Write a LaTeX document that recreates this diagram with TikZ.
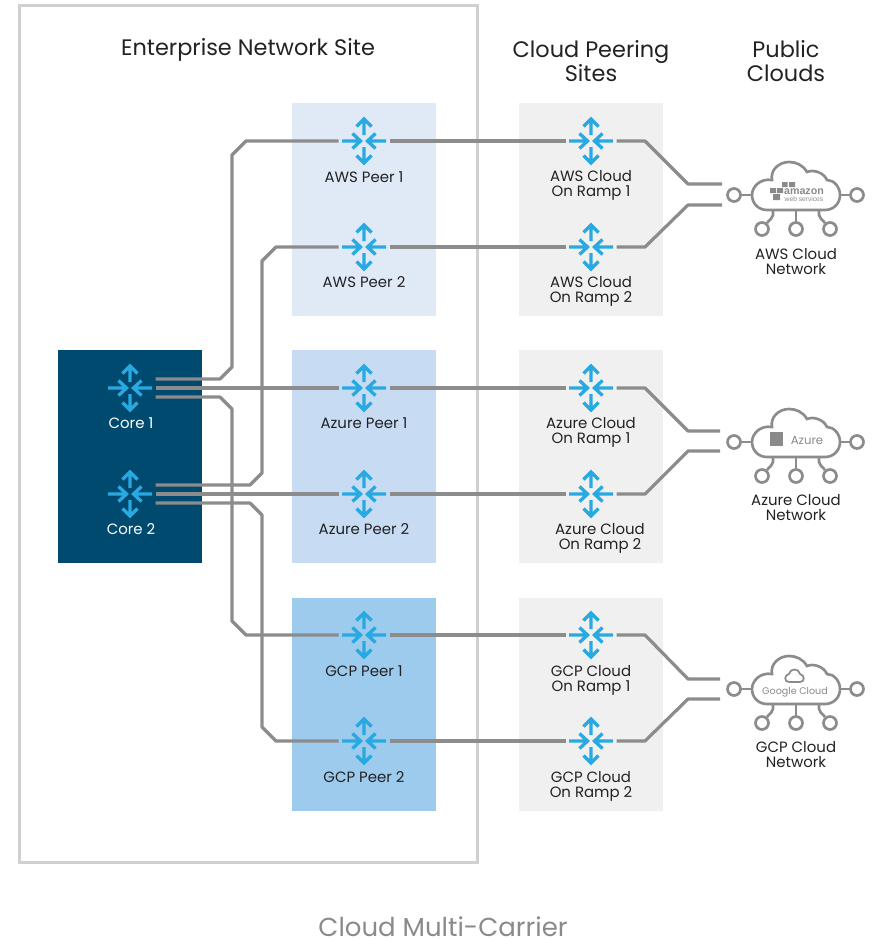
\documentclass[tikz,border=0pt]{standalone}
\usepackage{fontspec}
\setmainfont{Poppins}
\newfontfamily\logofont{Liberation Sans}
\definecolor{framegray}{HTML}{D0D0D0}
\definecolor{coreblue}{HTML}{004A70}
\definecolor{peerA}{HTML}{E0EAF7}
\definecolor{peerB}{HTML}{C7DCF3}
\definecolor{peerC}{HTML}{9CCBEE}
\definecolor{rampgray}{HTML}{F0F0F0}
\definecolor{linkgray}{HTML}{8C8C8C}
\definecolor{arrowblue}{HTML}{29A9E1}
\definecolor{labelblack}{HTML}{222222}
\definecolor{logogray}{HTML}{8A8A8A}
\tikzset{
  routerbox/.style={minimum size=38.25pt,inner sep=0pt,outer sep=0pt},
  cloudbox/.style={minimum width=114pt,minimum height=36pt,inner sep=0pt,outer sep=0pt},
  link/.style={draw=linkgray,line width=2.4pt,line join=round},
  labeltext/.style={font=\fontsize{11.2}{11.25}\selectfont,text=labelblack,align=center,inner sep=0pt},
  titletext/.style={font=\fontsize{16.8}{18}\selectfont,text=labelblack,align=center,inner sep=0pt},
  routericon/.pic={
    \draw[arrowblue,line width=2.5pt]
      (0,-6)--(0,-21) (-7.5,-14.5)--(0,-22)--(7.5,-14.5)
      (0,6)--(0,21) (-7.5,14.5)--(0,22)--(7.5,14.5)
      (-22,0)--(-4,0) (-11.5,-7.5)--(-3.5,0)--(-11.5,7.5)
      (22,0)--(4,0) (11.5,-7.5)--(3.5,0)--(11.5,7.5);
  },
  cloudicon/.pic={
    \begin{scope}[draw=linkgray,line width=2pt]
      \draw (-29,15) -- (29,15)
        .. controls (38,15) and (44,8) .. (44,0)
        .. controls (44,-8) and (38,-15) .. (31,-15)
        .. controls (28,-22) and (18,-26) .. (11,-23)
        .. controls (7,-30) and (0,-33) .. (-7,-33)
        .. controls (-17,-33) and (-26,-25) .. (-24,-15)
        .. controls (-36,-17) and (-44,-8) .. (-44,0)
        .. controls (-44,8) and (-38,15) .. (-29,15) -- cycle;
      \draw (-55,0)--(-44,0) (44,0)--(54,0);
      \draw (-62,0) circle (6.5);
      \draw (61,0) circle (6.5);
      \draw (-34,34) circle (6.5);
      \draw (0,34) circle (6.5);
      \draw (34,34) circle (6.5);
      \draw (0,15)--(0,27);
      \draw (-23,15)--(-23,20) .. controls (-23,23) and (-26,24) .. (-29,28);
      \draw (23,15)--(23,20) .. controls (23,23) and (26,24) .. (29,28);
    \end{scope}
  }
}
\begin{document}
\begin{tikzpicture}[x=0.75pt,y=-0.75pt]
\useasboundingbox (0,0) rectangle (874,939);
% panels
\draw[framegray,line width=2.25pt] (19,5) rectangle (477,862);
\fill[coreblue] (58,350) rectangle (202,563);
\fill[peerA] (292,103) rectangle (436,316);
\fill[peerB] (292,350) rectangle (436,563);
\fill[peerC] (292,598) rectangle (436,811);
\fill[rampgray] (519,103) rectangle (663,316);
\fill[rampgray] (519,350) rectangle (663,563);
\fill[rampgray] (519,598) rectangle (663,811);
% titles
\node[titletext] (t1) at (248,50) {Enterprise Network Site};
\node[titletext] (t2) at (591,61) {Cloud Peering\\[0.5pt]Sites};
\node[titletext] (t3) at (786,61) {Public\\[0.5pt]Clouds};
\node[font=\fontsize{19.5}{22}\selectfont,text=logogray,inner sep=0pt] (caption) at (443,927) {Cloud Multi-Carrier};
% router nodes
\node[routerbox] (core1) at (130,388) {};
\node[routerbox] (core2) at (130,494) {};
\node[routerbox] (awsp1) at (364,141) {};
\node[routerbox] (awsp2) at (364,247) {};
\node[routerbox] (azp1) at (364,388) {};
\node[routerbox] (azp2) at (364,494) {};
\node[routerbox] (gcpp1) at (364,635) {};
\node[routerbox] (gcpp2) at (364,741) {};
\node[routerbox] (awsr1) at (591,141) {};
\node[routerbox] (awsr2) at (591,247) {};
\node[routerbox] (azr1) at (591,388) {};
\node[routerbox] (azr2) at (591,494) {};
\node[routerbox] (gcpr1) at (591,635) {};
\node[routerbox] (gcpr2) at (591,741) {};
\node[cloudbox] (awscloud) at (796,195) {};
\node[cloudbox] (azcloud) at (796,442) {};
\node[cloudbox] (gcpcloud) at (796,689) {};
% core to peers
\draw[link] (core1.east) ++(0,-9) -- (220,379) -- (232,367) -- (232,155) -- (246,141) -- (awsp1.west);
\draw[link] (core1.east) -- (azp1.west);
\draw[link] (core1.east) ++(0,9) -- (220,397) -- (232,409) -- (232,621) -- (246,635) -- (gcpp1.west);
\draw[link] (core2.east) ++(0,-9) -- (250,485) -- (262,473) -- (262,261) -- (276,247) -- (awsp2.west);
\draw[link] (core2.east) -- (azp2.west);
\draw[link] (core2.east) ++(0,9) -- (250,503) -- (262,515) -- (262,727) -- (276,741) -- (gcpp2.west);
% peers to ramps
\draw[link] (awsp1.east) -- (awsr1.west);
\draw[link] (awsp2.east) -- (awsr2.west);
\draw[link] (azp1.east) -- (azr1.west);
\draw[link] (azp2.east) -- (azr2.west);
\draw[link] (gcpp1.east) -- (gcpr1.west);
\draw[link] (gcpp2.east) -- (gcpr2.west);
% ramps to clouds
\draw[link] (awsr1.east) -- (645,141) -- (688,184) -- ++(34,0) coordinate (e1);
\draw[link] (awsr2.east) -- (645,247) -- (688,205) -- ++(34,0) coordinate (e2);
\draw[link] (azr1.east) -- (645,388) -- (688,431) -- ++(32,0) coordinate (e3);
\draw[link] (azr2.east) -- (645,494) -- (688,451) -- ++(32,0) coordinate (e4);
\draw[link] (gcpr1.east) -- (645,635) -- (688,679) -- ++(32,0) coordinate (e5);
\draw[link] (gcpr2.east) -- (645,741) -- (688,699) -- ++(32,0) coordinate (e6);
% icons
\foreach \n in {core1,core2,awsp1,awsp2,azp1,azp2,gcpp1,gcpp2,awsr1,awsr2,azr1,azr2,gcpr1,gcpr2}
  \pic at (\n) {routericon};
\foreach \n in {awscloud,azcloud,gcpcloud}
  \pic at (\n) {cloudicon};
% labels
\node[labeltext,text=white] (lc1) at (131,423) {Core 1};
\node[labeltext,text=white] (lc2) at (131,529) {Core 2};
\node[labeltext] (l1) at (364,177) {AWS Peer 1};
\node[labeltext] (l2) at (364,282) {AWS Peer 2};
\node[labeltext] (l3) at (364,423) {Azure Peer 1};
\node[labeltext] (l4) at (364,529) {Azure Peer 2};
\node[labeltext] (l5) at (364,671) {GCP Peer 1};
\node[labeltext] (l6) at (364,777) {GCP Peer 2};
\node[labeltext] (r1) at (591,185.5) {AWS Cloud\\On Ramp 1};
\node[labeltext] (r2) at (591,291) {AWS Cloud\\On Ramp 2};
\node[labeltext] (r3) at (591,432) {Azure Cloud\\On Ramp 1};
\node[labeltext] (r4) at (600,538) {Azure Cloud\\On Ramp 2};
\node[labeltext] (r5) at (591,680) {GCP Cloud\\On Ramp 1};
\node[labeltext] (r6) at (591,786) {GCP Cloud\\On Ramp 2};
\node[labeltext] (c1) at (796,261.5) {AWS Cloud\\Network};
\node[labeltext] (c2) at (796,507.5) {Azure Cloud\\Network};
\node[labeltext] (c3) at (796,754.5) {GCP Cloud\\Network};
% logos
\fill[logogray] (782,182) rectangle (787.5,187) (789,182) rectangle (795,187) (770,188) rectangle (776,193) (777,188) rectangle (783,193) (773,194) rectangle (780,200);
\node[font=\logofont\fontsize{8}{9}\selectfont\bfseries,text=logogray,inner sep=0pt] (awslogo) at (804,192) {amazon};
\node[font=\logofont\fontsize{5}{5}\selectfont,text=logogray,inner sep=0pt] (awssub) at (804,199.5) {web services};
\fill[logogray] (770,432) rectangle (783,446);
\node[font=\fontsize{8.8}{9}\selectfont,text=logogray,inner sep=0pt] (azlogo) at (807,440) {Azure};
\draw[logogray,line width=1.3pt] (789,682) .. controls (784,682) and (784,675) .. (789,674) .. controls (790,668) and (799,668) .. (800,674) .. controls (805,675) and (805,682) .. (800,682) -- cycle;
\node[font=\fontsize{7.2}{9}\selectfont,text=logogray,inner sep=0pt] (gcplogo) at (795,692) {Google Cloud};
\end{tikzpicture}
\end{document}
